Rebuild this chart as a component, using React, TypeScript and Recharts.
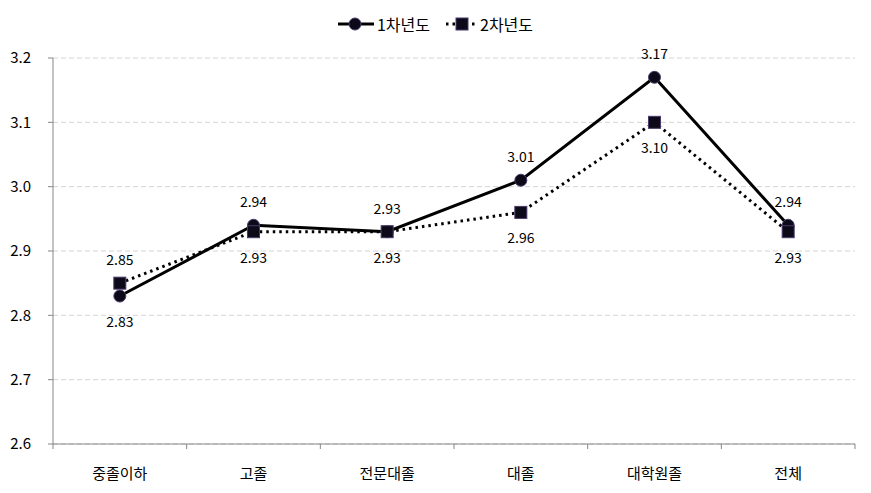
import { CartesianGrid, LabelList, Line, LineChart, XAxis, YAxis } from "recharts";

const categories = ["중졸이하", "고졸", "전문대졸", "대졸", "대학원졸", "전체"];
const year1 = [2.83, 2.94, 2.93, 3.01, 3.17, 2.94];
const year2 = [2.85, 2.93, 2.93, 2.96, 3.1, 2.93];
const yTicks = [2.6, 2.7, 2.8, 2.9, 3.0, 3.1, 3.2];
// which labels sit under their point
const year1Below = [true, false, false, false, false, false];
const year2Below = [false, true, true, true, true, true];

const data = categories.map((name, i) => ({ name, y1: year1[i], y2: year2[i] }));

const FONT = "'Noto Sans CJK KR', 'Noto Sans', sans-serif";
const AXIS = "#868686";

function makeLabel(below: boolean[]) {
  return (props: any) => {
    const { x, y, value, index } = props;
    const dy = below[index] ? 25 : -24;
    return (
      <text x={x} y={y + dy} textAnchor="middle" dominantBaseline="central" fontSize={14} fill="#000" fontFamily={FONT}>
        {Number(value).toFixed(2)}
      </text>
    );
  };
}

function CategoryTick(props: any) {
  const { x, y, payload, index } = props;
  const half = payload?.offset || 802 / 12;
  return (
    <g>
      <line x1={x - half} y1={y} x2={x - half} y2={y + 5} stroke={AXIS} />
      {index === categories.length - 1 && <line x1={x + half} y1={y} x2={x + half} y2={y + 5} stroke={AXIS} />}
      <text x={x} y={y + 28} textAnchor="middle" dominantBaseline="central" fontSize={15} fill="#000" fontFamily={FONT}>
        {payload.value}
      </text>
    </g>
  );
}

function CircleDot(props: any) {
  const { cx, cy, index } = props;
  return <circle key={`c${index}`} cx={cx} cy={cy} r={6} fill="#0c0a18" stroke="#4a3a6a" strokeWidth={1} />;
}

function SquareDot(props: any) {
  const { cx, cy, index } = props;
  return <rect key={`s${index}`} x={cx - 6} y={cy - 6} width={12} height={12} fill="#0c0a18" stroke="#4a3a6a" strokeWidth={1} />;
}

function LegendBar() {
  return (
    <div
      style={{
        position: "absolute",
        left: 0,
        top: 12,
        width: 871,
        display: "flex",
        justifyContent: "center",
        alignItems: "center",
        fontFamily: FONT,
        fontSize: 16,
        color: "#000",
        lineHeight: "24px",
      }}
    >
      <svg width={36} height={14}>
        <line x1={0} y1={7} x2={36} y2={7} stroke="#000" strokeWidth={3} />
        <circle cx={17} cy={7} r={6} fill="#0c0a18" stroke="#4a3a6a" />
      </svg>
      <span style={{ marginLeft: 3, marginRight: 16 }}>1차년도</span>
      <svg width={30} height={14}>
        <line x1={0} y1={7} x2={30} y2={7} stroke="#000" strokeWidth={3} strokeDasharray="2.5 4" />
        <rect x={10} y={1} width={12} height={12} fill="#0c0a18" stroke="#4a3a6a" />
      </svg>
      <span style={{ marginLeft: 4 }}>2차년도</span>
    </div>
  );
}

export default function App() {
  return (
    <div style={{ position: "relative", width: 871, height: 493, background: "#fff" }}>
      <style>{"body{margin:0}"}</style>
      <LegendBar />
      <LineChart width={871} height={493} data={data} margin={{ top: 58, right: 16, bottom: 19, left: 8 }}>
        <CartesianGrid vertical={false} stroke="#d4d4d4" strokeDasharray="5 3" />
        <XAxis
          dataKey="name"
          scale="band"
          axisLine={{ stroke: AXIS }}
          tickLine={false}
          tickSize={0}
          tickMargin={0}
          tick={<CategoryTick />}
          interval={0}
          height={30}
        />
        <YAxis
          domain={[2.6, 3.2]}
          ticks={yTicks}
          width={45}
          axisLine={{ stroke: AXIS }}
          tickLine={{ stroke: AXIS }}
          tickSize={5}
          tickMargin={17}
          tickFormatter={(v: number) => v.toFixed(1)}
          tick={{ fontSize: 15, fill: "#000", fontFamily: FONT }}
        />
        <Line dataKey="y1" stroke="#000" strokeWidth={3} dot={CircleDot} isAnimationActive={false}>
          <LabelList dataKey="y1" content={makeLabel(year1Below)} />
        </Line>
        <Line dataKey="y2" stroke="#000" strokeWidth={3} strokeDasharray="2.5 4" dot={SquareDot} isAnimationActive={false}>
          <LabelList dataKey="y2" content={makeLabel(year2Below)} />
        </Line>
      </LineChart>
    </div>
  );
}
